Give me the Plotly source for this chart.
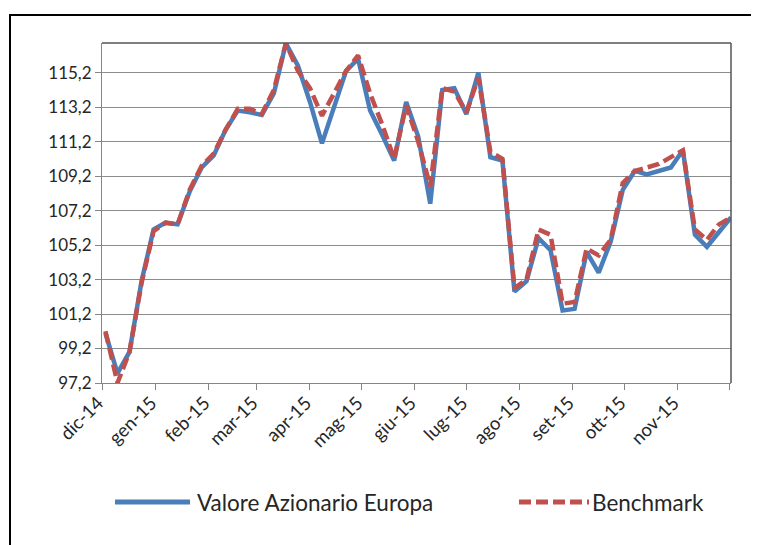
import pandas as pd
import plotly.graph_objects as go

# ---- data ----
dates = pd.date_range("2014-12-03", periods=53, freq="7D")

valore_azionario_europa = [
    100.1, 97.76, 99.0, 103.1, 106.1, 106.5, 106.4, 108.3, 109.7, 110.4,
    111.9, 113.0, 112.9, 112.75, 114.0, 116.9, 115.6, 113.5, 111.1, 113.2,
    115.3, 116.0, 113.0, 111.6, 110.1, 113.5, 111.5, 107.6, 114.2, 114.3,
    112.8, 115.2, 110.3, 110.1, 102.5, 103.1, 105.6, 104.9, 101.4, 101.5,
    104.8, 103.6, 105.4, 108.4, 109.5, 109.3, 109.5, 109.7, 110.7, 105.8,
    105.1, 106.0, 106.8,
]

benchmark = [
    100.2, 97.2, 99.0, 103.0, 106.0, 106.5, 106.4, 108.4, 109.8, 110.5,
    111.9, 113.1, 113.1, 112.8, 114.2, 116.9, 115.3, 114.3, 112.7, 114.0,
    115.3, 116.2, 114.0, 112.2, 110.2, 113.3, 111.2, 108.6, 114.3, 114.1,
    112.9, 114.9, 110.6, 110.2, 102.7, 103.2, 106.1, 105.8, 101.8, 101.9,
    105.0, 104.6, 105.5, 108.8, 109.5, 109.7, 109.9, 110.3, 110.7, 106.1,
    105.5, 106.4, 106.8,
]

month_ticks = pd.date_range("2014-12-01", periods=13, freq="MS")
month_labels = ["dic-14", "gen-15", "feb-15", "mar-15", "apr-15", "mag-15",
                "giu-15", "lug-15", "ago-15", "set-15", "ott-15", "nov-15", ""]

y_ticks = [97.2, 99.2, 101.2, 103.2, 105.2, 107.2, 109.2, 111.2, 113.2, 115.2]

series_names = ["Valore Azionario Europa", "Benchmark"]

BLUE = "#4A7EBB"
RED = "#C0504D"
FONT = "Lato, 'Open Sans', sans-serif"

fig = go.Figure()
fig.add_trace(go.Scatter(x=dates, y=valore_azionario_europa, mode="lines",
                         name=series_names[0],
                         line=dict(color=BLUE, width=4.5)))
fig.add_trace(go.Scatter(x=dates, y=benchmark, mode="lines",
                         name=series_names[1],
                         line=dict(color=RED, width=4.5, dash="12px,5px")))

# the page body has an 8px margin, so the figure is drawn 8px smaller and
# all page-pixel positions are shifted by -8
OFF = 8
W, H = 759 - OFF, 545 - OFF
L, T = 102 - OFF, 43 - OFF
R = W - (731 - OFF)
B = H - (383 - OFF)
pw, ph = W - L - R, H - T - B

def px_x(x):
    return (x - OFF - L) / pw

def px_y(y):
    return (H - B - (y - OFF)) / ph

shapes = [
    # outer chart border (extends beyond the picture on right/bottom)
    dict(type="rect", xref="paper", yref="paper",
         x0=px_x(10), x1=px_x(790), y0=px_y(580), y1=px_y(15),
         line=dict(color="black", width=2), layer="below"),
    # plot-area top and right border
    dict(type="line", xref="paper", yref="paper", x0=0, x1=1, y0=1, y1=1,
         line=dict(color="#555555", width=1.5)),
    dict(type="line", xref="paper", yref="paper", x0=1, x1=1, y0=0, y1=1,
         line=dict(color="#555555", width=1.5)),
    # legend samples
    dict(type="line", xref="paper", yref="paper",
         x0=px_x(115), x1=px_x(190), y0=px_y(502), y1=px_y(502),
         line=dict(color=BLUE, width=5)),
    dict(type="line", xref="paper", yref="paper",
         x0=px_x(519), x1=px_x(589), y0=px_y(502), y1=px_y(502),
         line=dict(color=RED, width=5, dash="12px,5px")),
]

annotations = [
    dict(xref="paper", yref="paper", x=px_x(195), y=px_y(502),
         text=series_names[0], showarrow=False, xanchor="left", yanchor="middle",
         font=dict(family=FONT, size=22.5, color="#262626")),
    dict(xref="paper", yref="paper", x=px_x(590), y=px_y(502),
         text=series_names[1], showarrow=False, xanchor="left", yanchor="middle",
         font=dict(family=FONT, size=22.5, color="#262626")),
]

fig.update_layout(
    width=W, height=H,
    margin=dict(l=L, r=R, t=T, b=B, pad=0),
    paper_bgcolor="white", plot_bgcolor="white",
    separators=",.",
    showlegend=False,
    font=dict(family=FONT, size=17, color="#262626"),
    shapes=shapes,
    annotations=annotations,
)

fig.update_xaxes(
    type="date",
    range=["2014-12-01", "2015-12-02"],
    tickmode="array", tickvals=month_ticks, ticktext=month_labels,
    tickangle=-45,
    ticks="outside", ticklen=6, tickcolor="#868686", tickwidth=1,
    showline=True, linecolor="#868686", linewidth=1,
    showgrid=False, zeroline=False,
    ticklabelstandoff=-5, ticklabelshift=-4,
    tickfont=dict(family=FONT, size=18.5, color="#262626"),
)

fig.update_yaxes(
    range=[97.2, 116.92],
    tickmode="array", tickvals=y_ticks, tickformat=".1f",
    ticks="outside", ticklen=6, tickcolor="#868686", tickwidth=1,
    showline=True, linecolor="#868686", linewidth=1,
    showgrid=True, gridcolor="#8C8C8C", gridwidth=1,
    zeroline=False,
    tickfont=dict(family=FONT, size=17, color="#262626"),
)

fig.write_html("out.html")
